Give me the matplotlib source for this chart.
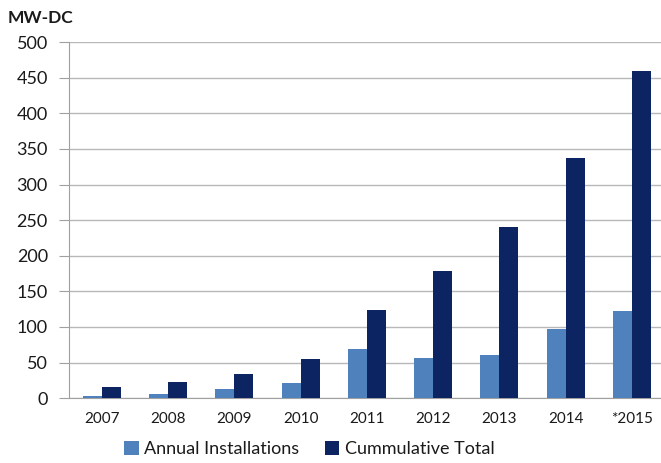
import numpy as np
import matplotlib.pyplot as plt

plt.rcParams['font.family'] = ['Lato', 'DejaVu Sans']

# Values (MW-DC)
years = ["2007", "2008", "2009", "2010", "2011", "2012", "2013", "2014", "*2015"]
annual = [3, 6, 13, 22, 69, 56, 61, 97, 122]
cumulative = [15, 23, 34, 55, 124, 179, 240, 337, 459]

light = "#4f81bd"
dark = "#0c2461"

fig = plt.figure(figsize=(6.61, 4.63), dpi=100)
ax = fig.add_axes([0.104, 0.140, 0.902, 0.769])

x = np.arange(len(years))
w = 0.287
ax.bar(x - w / 2, annual, w, color=light, label="Annual Installations", zorder=3)
ax.bar(x + w / 2, cumulative, w, color=dark, label="Cummulative Total", zorder=3)

ax.set_xlim(-0.5, len(years) - 0.5)
ax.set_ylim(0, 500)
ax.set_yticks(np.arange(0, 501, 50))
ax.set_xticks(x)
ax.set_xticklabels(years, fontsize=11, color="#1a1a1a")
ax.tick_params(axis="y", labelsize=13, length=7, color="#a0a0a0", labelcolor="#1a1a1a", pad=8)
ax.tick_params(axis="x", length=0, pad=10)
ax.grid(axis="y", color="#b8b8b8", linewidth=1, zorder=0)

for s in ["top", "right"]:
    ax.spines[s].set_visible(False)
ax.spines["left"].set_color("#a0a0a0")
ax.spines["bottom"].set_color("#a0a0a0")

fig.text(0.012, 0.962, "MW-DC", fontsize=12.5, fontweight="bold", color="#1a1a1a", va="center")

fig.legend(loc="center", bbox_to_anchor=(0.468, 0.03), ncol=2, frameon=False,
           fontsize=13, handlelength=0.8, handleheight=0.8, handletextpad=0.3,
           columnspacing=1.4, labelcolor="#1a1a1a")

fig.savefig("out.png", dpi=100)
